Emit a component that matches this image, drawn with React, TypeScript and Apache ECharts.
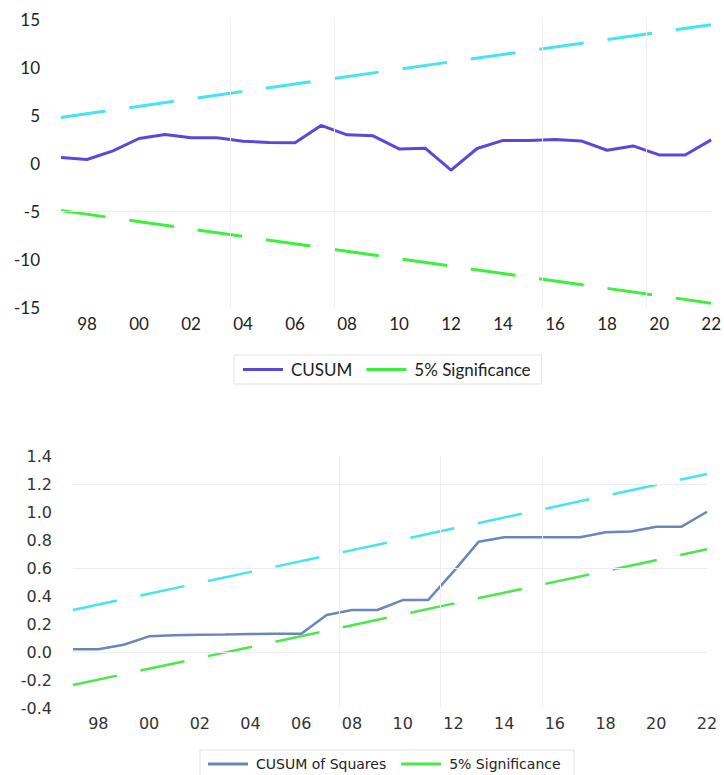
import React, { useEffect, useRef } from "react";
import * as echarts from "echarts";

const years = [1997, 1998, 1999, 2000, 2001, 2002, 2003, 2004, 2005, 2006, 2007, 2008, 2009, 2010, 2011, 2012, 2013, 2014, 2015, 2016, 2017, 2018, 2019, 2020, 2021, 2022];
const xTickYears = [1998, 2000, 2002, 2004, 2006, 2008, 2010, 2012, 2014, 2016, 2018, 2020, 2022];

const cusum = [0.57, 0.36, 1.26, 2.55, 2.97, 2.62, 2.62, 2.27, 2.14, 2.1, 3.91, 2.93, 2.83, 1.47, 1.54, -0.75, 1.51, 2.35, 2.35, 2.45, 2.3, 1.33, 1.78, 0.84, 0.84, 2.41];
const cusumBoundYears = [1997, 2022];
const cusumUpper = [4.75, 14.4];
const cusumLower = [-4.95, -14.6];

const cusumSq = [0.02, 0.02, 0.052, 0.112, 0.119, 0.124, 0.125, 0.129, 0.13, 0.13, 0.264, 0.3, 0.3, 0.371, 0.371, 0.574, 0.788, 0.819, 0.819, 0.819, 0.819, 0.855, 0.86, 0.895, 0.895, 1.002];
const sqBoundYears = [1997, 2022];
const sqUpper = [0.3, 1.271];
const sqLower = [-0.236, 0.734];

const topGridYears = [2003.5, 2007.5, 2015.5, 2019.5];
const topGridValues = [-5];
const bottomGridYears = [2007.5, 2011.5, 2015.5];
const bottomGridValues = [0, 0.6, 1.2];

const pairs = (xs: number[], ys: number[]) => xs.map((x, i) => [x, ys[i]]);
const yy = (v: number) => String(v % 100).padStart(2, "0");

export default function App() {
  const ref = useRef<HTMLDivElement>(null);
  useEffect(() => {
    document.body.style.margin = "0";
    const chart = echarts.init(ref.current!, undefined, { renderer: "svg" });
    const topFont = "Lato";
    const botFont = "DejaVu Sans";
    const dash = [45, 24];
    const gridMark = (xs: number[], ys: number[]) => ({
      silent: true,
      symbol: "none",
      label: { show: false },
      lineStyle: { color: "#eeeeee", width: 1, type: "solid" },
      data: [...xs.map((x) => ({ xAxis: x })), ...ys.map((y) => ({ yAxis: y }))],
    });
    chart.setOption({
      animation: false,
      backgroundColor: "#ffffff",
      grid: [
        { left: 61, width: 652, top: 19, height: 288 },
        { left: 73, width: 634, top: 456, height: 252 },
      ],
      xAxis: [
        {
          type: "value", gridIndex: 0, min: 1997, max: 2022,
          axisLine: { show: false }, axisTick: { show: false }, splitLine: { show: false },
          axisLabel: { customValues: xTickYears, formatter: yy, fontFamily: topFont, fontSize: 17, color: "#222", margin: 8 },
        },
        {
          type: "value", gridIndex: 1, min: 1997, max: 2022,
          axisLine: { show: false }, axisTick: { show: false }, splitLine: { show: false },
          axisLabel: { customValues: xTickYears, formatter: yy, fontFamily: botFont, fontSize: 16, color: "#333", margin: 7 },
        },
      ],
      yAxis: [
        {
          type: "value", gridIndex: 0, min: -15, max: 15, interval: 5,
          axisLine: { show: false }, axisTick: { show: false }, splitLine: { show: false },
          axisLabel: { fontFamily: topFont, fontSize: 17, color: "#222", margin: 21 },
        },
        {
          type: "value", gridIndex: 1, min: -0.4, max: 1.4, interval: 0.2,
          axisLine: { show: false }, axisTick: { show: false }, splitLine: { show: false },
          axisLabel: { fontFamily: botFont, fontSize: 16, color: "#333", margin: 21, formatter: (v: number) => v.toFixed(1) },
        },
      ],
      legend: [
        {
          data: ["CUSUM", "5% Significance"],
          left: 234, top: 355, padding: [6, 11, 6, 9],
          icon: "rect", itemWidth: 40, itemHeight: 3, itemGap: 14,
          selectedMode: false,
          borderColor: "#e2e2e2", borderWidth: 1,
          textStyle: { fontFamily: topFont, fontSize: 17, color: "#222", padding: [0, 0, 0, 3] },
        },
        {
          data: ["CUSUM of Squares", "5% Significance "],
          left: 200, top: 750, padding: [7, 9, 7, 8],
          icon: "rect", itemWidth: 40, itemHeight: 3, itemGap: 15,
          selectedMode: false,
          borderColor: "#e2e2e2", borderWidth: 1,
          textStyle: { fontFamily: botFont, fontSize: 14, color: "#222", padding: [0, 0, 0, 3] },
        },
      ],
      series: [
        {
          name: "upper0", type: "line", xAxisIndex: 0, yAxisIndex: 0,
          data: pairs(cusumBoundYears, cusumUpper), symbol: "none",
          lineStyle: { color: "#44e4f0", width: 3, type: dash },
          itemStyle: { color: "#44e4f0" },
          markLine: gridMark(topGridYears, topGridValues),
        },
        {
          name: "5% Significance", type: "line", xAxisIndex: 0, yAxisIndex: 0,
          data: pairs(cusumBoundYears, cusumLower), symbol: "none",
          lineStyle: { color: "#3ef03e", width: 3, type: dash },
          itemStyle: { color: "#3ef03e" },
        },
        {
          name: "CUSUM", type: "line", xAxisIndex: 0, yAxisIndex: 0,
          data: pairs(years, cusum), symbol: "none",
          lineStyle: { color: "#5a48dc", width: 3 },
          itemStyle: { color: "#5a48dc" },
        },
        {
          name: "upper1", type: "line", xAxisIndex: 1, yAxisIndex: 1,
          data: pairs(sqBoundYears, sqUpper), symbol: "none",
          lineStyle: { color: "#44e4f0", width: 2.5, type: dash },
          itemStyle: { color: "#44e4f0" },
          markLine: gridMark(bottomGridYears, bottomGridValues),
        },
        {
          name: "5% Significance ", type: "line", xAxisIndex: 1, yAxisIndex: 1,
          data: pairs(sqBoundYears, sqLower), symbol: "none",
          lineStyle: { color: "#4ae84a", width: 2.5, type: dash },
          itemStyle: { color: "#4ae84a" },
        },
        {
          name: "CUSUM of Squares", type: "line", xAxisIndex: 1, yAxisIndex: 1,
          data: pairs(years, cusumSq), symbol: "none",
          lineStyle: { color: "#6b86bb", width: 2.5 },
          itemStyle: { color: "#6b86bb" },
        },
      ],
    });
    return () => chart.dispose();
  }, []);
  return <div ref={ref} style={{ width: 724, height: 775 }} />;
}
